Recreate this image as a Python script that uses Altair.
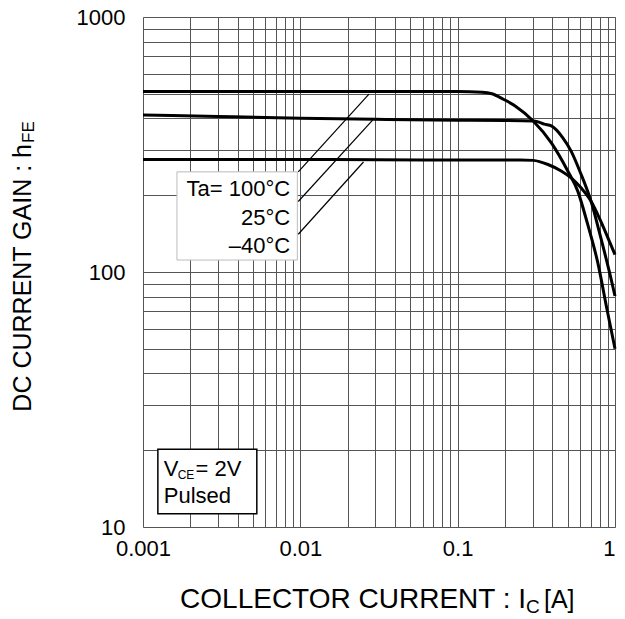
import altair as alt
import pandas as pd

FONT = "Liberation Sans"

# ---- data ----
ic_100 = [0.001, 0.01, 0.05, 0.1, 0.143, 0.165, 0.195, 0.232, 0.302, 0.394, 0.501, 0.579, 0.67, 0.774, 0.895, 1.0]
hfe_100 = [510, 510, 510, 510, 507, 500, 476, 448, 391, 321, 249, 208, 154, 110, 70, 50]

ic_25 = [0.001, 0.003, 0.01, 0.03, 0.1, 0.2, 0.3, 0.325, 0.355, 0.394, 0.466, 0.526, 0.608, 0.703, 0.813, 0.94, 1.0]
hfe_25 = [413, 407, 401, 397, 394, 393, 391, 388, 380, 374, 336, 298, 242, 190, 136, 95, 80.5]

ic_m40 = [0.001, 0.01, 0.1, 0.25, 0.302, 0.375, 0.455, 0.526, 0.608, 0.703, 0.813, 0.94, 1.0]
hfe_m40 = [276, 276, 275, 275, 274, 264, 249, 234, 214, 190, 158, 128, 117]

x_ticks = [0.001, 0.002, 0.003, 0.004, 0.005, 0.006, 0.007, 0.008, 0.009,
           0.01, 0.02, 0.03, 0.04, 0.05, 0.06, 0.07, 0.08, 0.09,
           0.1, 0.2, 0.3, 0.4, 0.5, 0.6, 0.7, 0.8, 0.9, 1.0]
x_labels = [0.001, 0.01, 0.1, 1.0]
y_ticks = [10, 20, 30, 40, 50, 60, 70, 80, 90,
           100, 200, 300, 400, 500, 600, 700, 800, 900, 1000]
y_labels = [10, 100, 1000]

# temperature annotation
temp_labels = ["Ta= 100°C", "25°C", "–40°C"]
temp_text_x = [0.00861, 0.00861, 0.00861]
temp_text_y = [198.6, 152.9, 119.0]
leader_x1 = [0.0097, 0.0097, 0.0097]
leader_y1 = [247, 189, 140.6]
leader_x2 = [0.0273, 0.0288, 0.0252]
leader_y2 = [498, 394, 270]
temp_box = {"x": 0.001644, "x2": 0.00957, "y": 111.4, "y2": 247}

# condition box
cond_box = {"x": 0.001243, "x2": 0.00529, "y": 11.28, "y2": 20.17}
cond_parts = ["V", "CE", "= 2V", "Pulsed"]
cond_x = [0.001355, 0.00166, 0.002154, 0.001355]
cond_y = [15.85, 15.45, 15.85, 12.45]
cond_size = [22, 12, 22, 22]

rows = []
for name, xs, ys in [("100", ic_100, hfe_100), ("25", ic_25, hfe_25), ("-40", ic_m40, hfe_m40)]:
    for a, b in zip(xs, ys):
        rows.append({"series": name, "ic": a, "hfe": b})
curves = pd.DataFrame(rows)

xscale = alt.Scale(type="log", domain=[0.001, 1], nice=False)
yscale = alt.Scale(type="log", domain=[10, 1000], nice=False)

xlab_expr = "indexof(" + str(x_labels) + ", datum.value) >= 0 ? datum.label : ''"
ylab_expr = "indexof(" + str(y_labels) + ", datum.value) >= 0 ? datum.label : ''"

X = alt.X("ic:Q", scale=xscale, axis=alt.Axis(
    values=x_ticks, labelExpr=xlab_expr, format="~g", title=None, ticks=False, domain=False,
    gridColor="#555555", gridWidth=1, gridOpacity=1, labelFontSize=22, labelFont=FONT,
    labelColor="black", labelPadding=11, labelFlush=False, labelOverlap=False, labelBound=False,
    labelAlign={"condition": {"test": "datum.value == 1", "value": "right"}, "value": "center"}))
Y = alt.Y("hfe:Q", scale=yscale, axis=alt.Axis(
    values=y_ticks, labelExpr=ylab_expr, format="~g", title=None, ticks=False, domain=False,
    gridColor="#555555", gridWidth=1, gridOpacity=1, labelFontSize=22, labelFont=FONT,
    labelColor="black", labelPadding=18, labelFlush=False, labelOverlap=False, labelBound=False))

lines = alt.Chart(curves).mark_line(color="black", strokeWidth=3, interpolate="monotone").encode(
    x=X, y=Y, detail="series:N")

tb = pd.DataFrame([temp_box])
temp_rect = alt.Chart(tb).mark_rect(fill="white", stroke="#bbbbbb", strokeWidth=1).encode(
    x=alt.X("x:Q", scale=xscale), x2="x2:Q", y=alt.Y("y:Q", scale=yscale), y2="y2:Q")

cb = pd.DataFrame([cond_box])
cond_rect = alt.Chart(cb).mark_rect(fill="white", stroke="black", strokeWidth=1.5).encode(
    x=alt.X("x:Q", scale=xscale), x2="x2:Q", y=alt.Y("y:Q", scale=yscale), y2="y2:Q")

ld = pd.DataFrame({"x": leader_x1, "y": leader_y1, "x2": leader_x2, "y2": leader_y2})
leaders = alt.Chart(ld).mark_rule(color="black", strokeWidth=1.2).encode(
    x=alt.X("x:Q", scale=xscale), x2="x2:Q", y=alt.Y("y:Q", scale=yscale), y2="y2:Q")

td = pd.DataFrame({"t": temp_labels, "x": temp_text_x, "y": temp_text_y})
temp_text = alt.Chart(td).mark_text(align="right", baseline="alphabetic", fontSize=22,
                                    font=FONT, color="black").encode(
    x=alt.X("x:Q", scale=xscale), y=alt.Y("y:Q", scale=yscale), text="t:N")

cd = pd.DataFrame({"t": cond_parts, "x": cond_x, "y": cond_y, "s": cond_size})
cond_text = alt.Chart(cd).mark_text(align="left", baseline="alphabetic", font=FONT,
                                    color="black").encode(
    x=alt.X("x:Q", scale=xscale), y=alt.Y("y:Q", scale=yscale), text="t:N",
    size=alt.Size("s:Q", scale=None, legend=None))

# axis titles with subscripts
title_df = pd.DataFrame({"d": [0]})
def txt(text, x, y, size, align, angle=0):
    kw = dict(text=text, align=align, baseline="alphabetic", fontSize=size, font=FONT, color="black")
    if angle:
        kw["angle"] = angle
    return alt.Chart(title_df).mark_text(**kw).encode(x=alt.value(x), y=alt.value(y))

xt1 = txt("COLLECTOR CURRENT : I", 383, 591, 28, "right")
xt2 = txt("C", 383, 596, 19, "left")
xt3 = txt("[A]", 401, 591, 25, "left")
yt1 = txt("DC CURRENT GAIN : h", -112.5, 127, 25, "right", 270)
yt2 = txt("FE", -109.5, 126, 17, "left", 270)

chart = alt.layer(
    temp_rect, cond_rect, lines, leaders, temp_text, cond_text, xt1, xt2, xt3, yt1, yt2
).properties(
    width=472, height=510,
    autosize=alt.AutoSizeParams(type="none"),
    padding={"left": 135, "top": 9, "right": 2, "bottom": 89},
).configure_view(stroke="black", strokeWidth=2.5).configure(background="white")

chart.save("out.html", embed_options={"renderer": "svg", "actions": False})
